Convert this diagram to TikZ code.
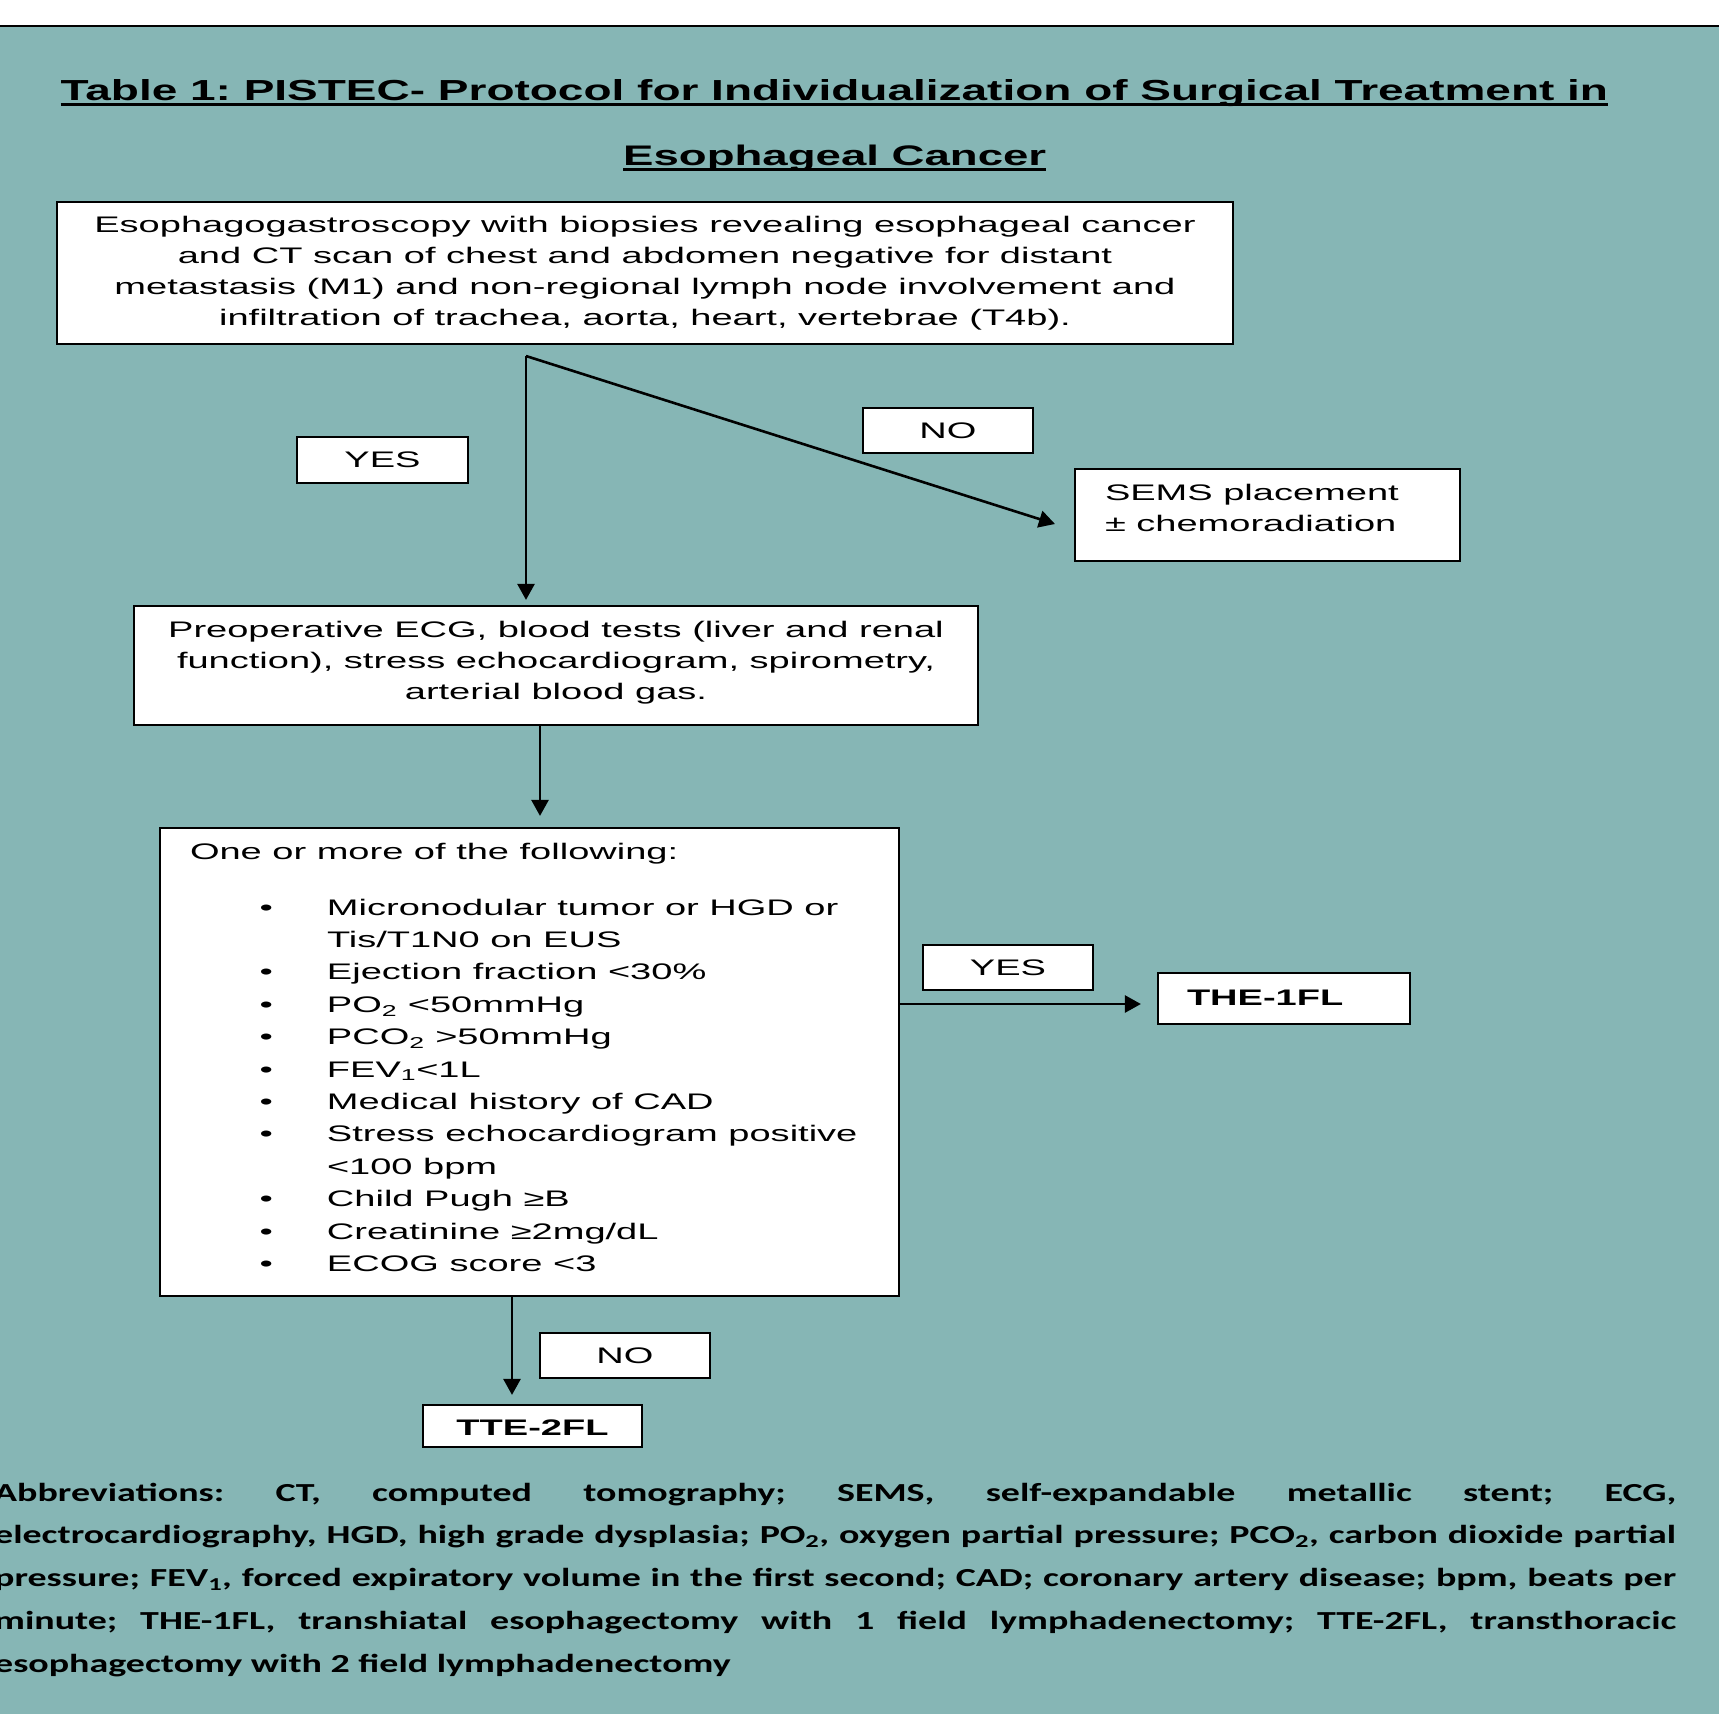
\documentclass[tikz,border=0pt]{standalone}
\usepackage{fontspec}
\usepackage{graphicx}
\usetikzlibrary{arrows.meta}
\newfontfamily\bodyf{Liberation Sans}[FakeStretch=1.69]
\newfontfamily\abbrf{Carlito}[FakeStretch=1.46]
\definecolor{bgteal}{RGB}{134,182,181}
\newcommand{\itm}[1]{\hspace*{69.5pt}\makebox[67.5pt][l]{•}#1}
\newcommand{\cnt}[1]{\hspace*{137pt}#1}
\begin{document}
\frenchspacing
\begin{tikzpicture}[x=1pt,y=-1pt,
  box/.style={draw=black, line width=2.2pt, fill=white, inner ysep=0pt, inner xsep=10pt,
    font=\bodyf\fontsize{22.5}{31}\selectfont},
  lbl/.style={draw=black, line width=2.2pt, fill=white, inner sep=0pt,
    minimum width=170pt, minimum height=45pt, font=\bodyf\fontsize{22.5}{31}\selectfont},
  arr/.style={line width=2.6pt, -{Triangle[length=16pt,width=17pt]}},
  ttl/.style={anchor=base west, inner sep=0pt},
]
\useasboundingbox (0,0) rectangle (1719,1714);
\fill[white] (0,0) rectangle (1719,1714);
\fill[bgteal] (0,26) rectangle (1719,1714);
\draw[line width=2pt] (0,25.5) -- (1719,25.5);

% title
\node[ttl] (t1) at (60.5,100.7) {\rlap{\rule[-5pt]{1547pt}{3pt}}\resizebox{1547pt}{21pt}{\bodyf\bfseries Table 1: PISTEC- Protocol for Individualization of Surgical Treatment in}};
\node[ttl] (t2) at (623,165.5) {\rlap{\rule[-5pt]{423pt}{3pt}}\resizebox{423pt}{20.5pt}{\bodyf\bfseries Esophageal Cancer}};

% boxes
\node[box] (b1) at (645,273) {\parbox[c][142pt][t]{1156pt}{\centering\rule{0pt}{30pt}Esophagogastroscopy with biopsies revealing esophageal cancer\\
and CT scan of chest and abdomen negative for distant\\
metastasis (M1) and non-regional lymph node involvement and\\
infiltration of trachea, aorta, heart, vertebrae (T4b).}};

\node[box] (b2) at (556,665.5) {\parbox[c][119pt][t]{824pt}{\centering\rule{0pt}{31pt}Preoperative ECG, blood tests (liver and renal\\
function), stress echocardiogram, spirometry,\\
arterial blood gas.}};

\node[box, inner xsep=30pt] (b4) at (1267.5,515) {\parbox[c][92pt][t]{325pt}{\raggedright\rule{0pt}{31pt}SEMS placement\\
± chemoradiation}};

\node[box, inner xsep=30pt] (b3) at (529.5,1062) {\parbox[c][468pt][t]{679pt}{\fontsize{22.5}{32.4}\selectfont\raggedright\rule{0pt}{31pt}One or more of the following:\\[23.6pt]
\itm{Micronodular tumor or HGD or}\\
\cnt{Tis/T1N0 on EUS}\\
\itm{Ejection fraction <30\%}\\
\itm{PO\textsubscript{2} <50mmHg}\\
\itm{PCO\textsubscript{2} >50mmHg}\\
\itm{FEV\textsubscript{1}<1L}\\
\itm{Medical history of CAD}\\
\itm{Stress echocardiogram positive}\\
\cnt{<100 bpm}\\
\itm{Child Pugh ≥B}\\
\itm{Creatinine ≥2mg/dL}\\
\itm{ECOG score <3}}};

\node[box, inner xsep=29pt] (b6) at (1284,998.5) {\parbox[c][51pt][t]{194pt}{\raggedright\rule{0pt}{32pt}\bfseries THE-1FL}};
\node[box, inner xsep=10pt] (b7) at (532.5,1426) {\parbox[c][42pt][t]{199pt}{\centering\rule{0pt}{30pt}\bfseries TTE-2FL}};

% labels
\node[lbl, minimum width=171pt, minimum height=46pt] (yes1) at (382.5,460) {YES};
\node[lbl] (no1) at (948,430.5) {NO};
\node[lbl] (yes2) at (1008,967.5) {YES};
\node[lbl] (no2) at (625,1355.5) {NO};

% connectors
\coordinate (fork) at (526,356);
\coordinate (semsin) at (1055,524);
\coordinate (thein) at ([yshift=-5.5pt]b6.west);
\coordinate (b2out) at ([xshift=-16pt]b2.south);
\coordinate (b3out) at ([xshift=-17.5pt]b3.south);
\draw[arr, shorten >=5pt] (fork) -- (fork |- b2.north);
\draw[arr] (fork) -- (semsin);
\draw[arr, shorten >=11pt] (b2out) -- (b2out |- b3.north);
\draw[arr, shorten >=16pt] (b3.east |- thein) -- (thein);
\draw[arr, shorten >=9pt] (b3out) -- (b3out |- b7.north);

% abbreviations
\node[anchor=base west, inner sep=0pt, font=\abbrf\bfseries\fontsize{26}{42.8}\selectfont] (abbr) at (-6,1501) {\parbox[t]{1682pt}{%
\makebox[1682pt][s]{Abbreviations: CT, computed tomography; SEMS, self-expandable metallic stent; ECG,}\\
\makebox[1682pt][s]{electrocardiography, HGD, high grade dysplasia; PO\textsubscript{2}, oxygen partial pressure; PCO\textsubscript{2}, carbon dioxide partial}\\
\makebox[1682pt][s]{pressure; FEV\textsubscript{1}, forced expiratory volume in the first second; CAD; coronary artery disease; bpm, beats per}\\
\makebox[1682pt][s]{minute; THE-1FL, transhiatal esophagectomy with 1 field lymphadenectomy; TTE-2FL, transthoracic}\\
esophagectomy with 2 field lymphadenectomy}};
\end{tikzpicture}
\end{document}
